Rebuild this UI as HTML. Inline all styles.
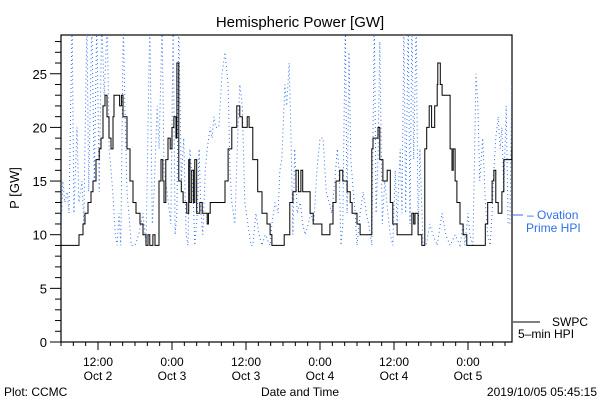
<!DOCTYPE html>
<html><head><meta charset="utf-8"><style>
body{margin:0;background:#fff}
svg{display:block;font-family:"Liberation Sans",sans-serif}
</style></head><body>
<svg id="c" width="600" height="400" xmlns="http://www.w3.org/2000/svg">
<defs><clipPath id="pc"><rect x="61" y="35" width="451" height="307"/></clipPath></defs>
<text x="300" y="27" text-anchor="middle" font-size="15">Hemispheric Power [GW]</text>
<text transform="translate(19,188) rotate(-90)" text-anchor="middle" font-size="13">P [GW]</text>
<text x="300" y="396" text-anchor="middle" font-size="12">Date and Time</text>
<text x="4" y="396" font-size="12">Plot: CCMC</text>
<text x="597" y="396" text-anchor="end" font-size="12">2019/10/05 05:45:15</text>
<g id="axes"></g>
<g id="series" clip-path="url(#pc)"></g>
<g>
<line x1="513" y1="215" x2="523" y2="215" stroke="#2f6fe8" stroke-width="1"/>
<text x="527" y="219" font-size="12" fill="#2f6fe8">– Ovation</text>
<text x="526" y="232" font-size="12" fill="#2f6fe8">Prime HPI</text>
<line x1="513" y1="322" x2="540" y2="322" stroke="#000" stroke-width="1"/>
<text x="552" y="326" font-size="12">SWPC</text>
<text x="518" y="338" font-size="12">5–min HPI</text>
</g>
</svg>
<script>
const yTicks=[0,5,10,15,20,25];
const xTickHours=[12,24,36,48,60,72];
const xTickLabels1=["12:00","0:00","12:00","0:00","12:00","0:00"];
const xTickLabels2=["Oct 2","Oct 3","Oct 3","Oct 4","Oct 4","Oct 5"];
const swpcHours=[5.92,8.27,8.92,9.57,9.57,9.89,10.38,10.86,11.19,11.68,12.2,12.49,12.81,13.14,13.46,13.78,14.11,14.43,14.59,15.24,15.5,15.8,16.05,16.7,17.19,17.68,18.16,18.81,19.3,19.78,20.1,20.4,20.9,21.24,21.89,22.22,22.5,22.7,23.0,23.35,23.7,24.0,24.3,24.65,24.8,25.1,25.5,25.8,26.4,26.7,26.9,27.2,27.5,27.7,28.0,28.5,28.9,29.7,29.9,30.2,32.1,32.6,33.1,33.7,34.5,35.0,35.4,36.2,36.5,37.1,37.9,38.6,39.4,39.9,40.2,41.5,42.2,42.6,43.1,43.6,44.1,44.5,44.9,45.2,45.9,46.4,46.9,47.8,48.3,49.1,49.6,50.1,50.6,51.2,51.7,52.4,52.9,53.2,54.0,54.5,55.6,56.4,56.6,57.4,57.7,58.2,58.9,59.4,59.8,60.5,62.3,62.9,63.2,63.4,63.9,64.5,65.0,65.3,65.7,66.1,66.6,67.0,67.1,67.5,67.8,68.6,69.1,69.4,69.6,69.9,70.2,70.7,71.2,71.8,74.3,74.8,75.2,75.9,76.2,76.5,76.9,77.5,77.8,78.8,79.1];
const swpcValues=[9,9,10,10,11,12,13,14,15,17,18,19,22,23,21,19,18,21,23,23,22,23,21,18,15,13,12,11,10,9,10,9,10,9,15,17,15,13,17,19,18,20,21,19,26,15,14,13,12,17,13,16,13,17,12,13,12,11,12,13,13,15,18,20,22,21,20,21,20,17,14,12,11,10,9,9,10,10,13,14,16,14,16,14,14,12,11,11,10,10,11,13,15,16,15,14,13,12,11,10,10,18,19,20,17,15,16,13,11,10,10,12,11,12,10,9,18,20,22,20,22,24,26,24,23,23,18,16,18,15,13,11,10,9,9,11,13,15,16,13,12,14,17,17,18];
const ovHours=[6.0,6.3,6.6,7.0,7.3,7.8,8.1,8.6,8.9,9.4,9.7,10.2,10.5,11.0,11.4,11.8,12.2,12.6,13.0,13.5,13.8,14.1,14.4,14.8,15.1,15.4,15.7,16.1,16.4,16.7,17.0,17.4,18.0,18.6,19.3,19.8,20.4,20.8,21.1,21.6,21.9,22.4,22.7,23.2,23.8,24.2,24.5,24.8,25.1,25.5,25.9,26.3,26.6,26.9,27.4,27.7,28.1,28.4,28.7,29.0,29.4,29.7,30.2,30.5,30.8,31.1,31.6,32.1,32.6,33.1,33.4,33.7,34.2,34.7,35.0,35.4,35.8,36.3,36.8,37.1,37.6,38.1,38.6,39.1,39.9,40.2,40.7,41.2,41.5,41.8,42.3,42.6,43.0,43.3,43.6,43.9,44.3,44.8,45.2,45.6,46.1,46.5,47.0,47.5,48.0,48.5,49.0,49.5,49.9,50.4,50.8,51.1,51.4,51.7,52.1,52.4,52.7,53.0,53.4,53.7,54.0,54.5,55.0,55.5,55.9,56.4,56.8,57.1,57.4,57.7,58.1,58.5,59.0,59.4,59.8,60.2,60.5,61.0,61.3,61.6,61.9,62.3,62.6,62.9,63.2,63.6,63.9,64.2,64.7,65.2,65.8,66.3,67.0,67.5,67.8,68.4,69.1,69.9,70.7,71.2,71.5,72.0,72.3,72.8,73.3,73.6,73.9,74.4,74.8,75.2,75.6,75.9,76.2,76.5,76.9,77.2,77.5,77.8,78.2,78.5,78.8,79.1];
const ovValues=[10,15,13,14,12,30,12,20,13,15,11,30,14,30,15,30,14,30,23,30,18,16,14,10,9,12,9,30,21,14,12,9,9,10,12,9,30,11,14,22,18,30,16,14,11,30,10,12,30,15,19,10,9,18,14,9,12,18,12,10,16,18,20,19,21,20,20,25,27,24,16,13,11,20,24,22,13,11,9,9,12,10,9,10,9,11,13,12,16,17,24,22,26,19,10,18,12,13,11,10,11,12,11,16,19,19,14,13,12,15,18,16,9,11,30,12,27,17,14,12,9,12,14,12,11,9,30,12,17,28,11,15,12,10,9,16,11,18,12,30,12,30,11,30,17,30,10,18,9,9,11,10,9,11,12,10,9,10,9,11,9,12,10,9,25,22,15,19,13,10,9,12,16,19,21,18,20,14,22,11,11,24];

const L=61,R=512,T=35,B=342;
const x=h=>98+(h-12)*6.1667;
const y=v=>B-v*10.73;
const NS="http://www.w3.org/2000/svg";
function mk(tag,attrs,parent){const e=document.createElementNS(NS,tag);for(const k in attrs)e.setAttribute(k,attrs[k]);parent.appendChild(e);return e;}
const ax=document.getElementById('axes');
const fr=mk('rect',{x:L,y:T,width:R-L,height:B-T,fill:'none',stroke:'#000','stroke-width':1.2},ax);


for(let v=0;v<=28;v++){
  const big=yTicks.includes(v);
  const t=mk('line',{x1:L-(big?11:6),x2:L,y1:y(v),y2:y(v),stroke:'#000'},ax);
  
  
}
yTicks.forEach(v=>{
  const t=mk('text',{x:47,y:y(v)+5,'text-anchor':'end','font-size':13},ax);t.textContent=v;
  
  
});
for(let h=6;h<=79;h+=2){
  const big=xTickHours.includes(h);
  const t=mk('line',{x1:x(h),x2:x(h),y1:B,y2:B+(big?8:4),stroke:'#000'},ax);
  
  
}
xTickHours.forEach((h,i)=>{
  const a=mk('text',{x:x(h),y:366,'text-anchor':'middle','font-size':12},ax);a.textContent=xTickLabels1[i];
  
  
  const b=mk('text',{x:x(h),y:380,'text-anchor':'middle','font-size':12},ax);b.textContent=xTickLabels2[i];
  
  
});
const sg=document.getElementById('series');
let d='';ovHours.forEach((h,i)=>{d+=(i?'L':'M')+x(h).toFixed(1)+' '+y(ovValues[i]).toFixed(1);});
const ov=mk('path',{d:d,fill:'none',stroke:'#2f6fe8','stroke-width':1,'stroke-dasharray':'1 3'},sg);


let d2='';swpcHours.forEach((h,i)=>{
  if(i===0)d2+='M'+x(h).toFixed(1)+' '+y(swpcValues[i]).toFixed(1);
  else d2+='H'+x(h).toFixed(1)+'V'+y(swpcValues[i]).toFixed(1);
});
const sw=mk('path',{d:d2,fill:'none',stroke:'#000','stroke-width':1},sg);


</script>
</body></html>
